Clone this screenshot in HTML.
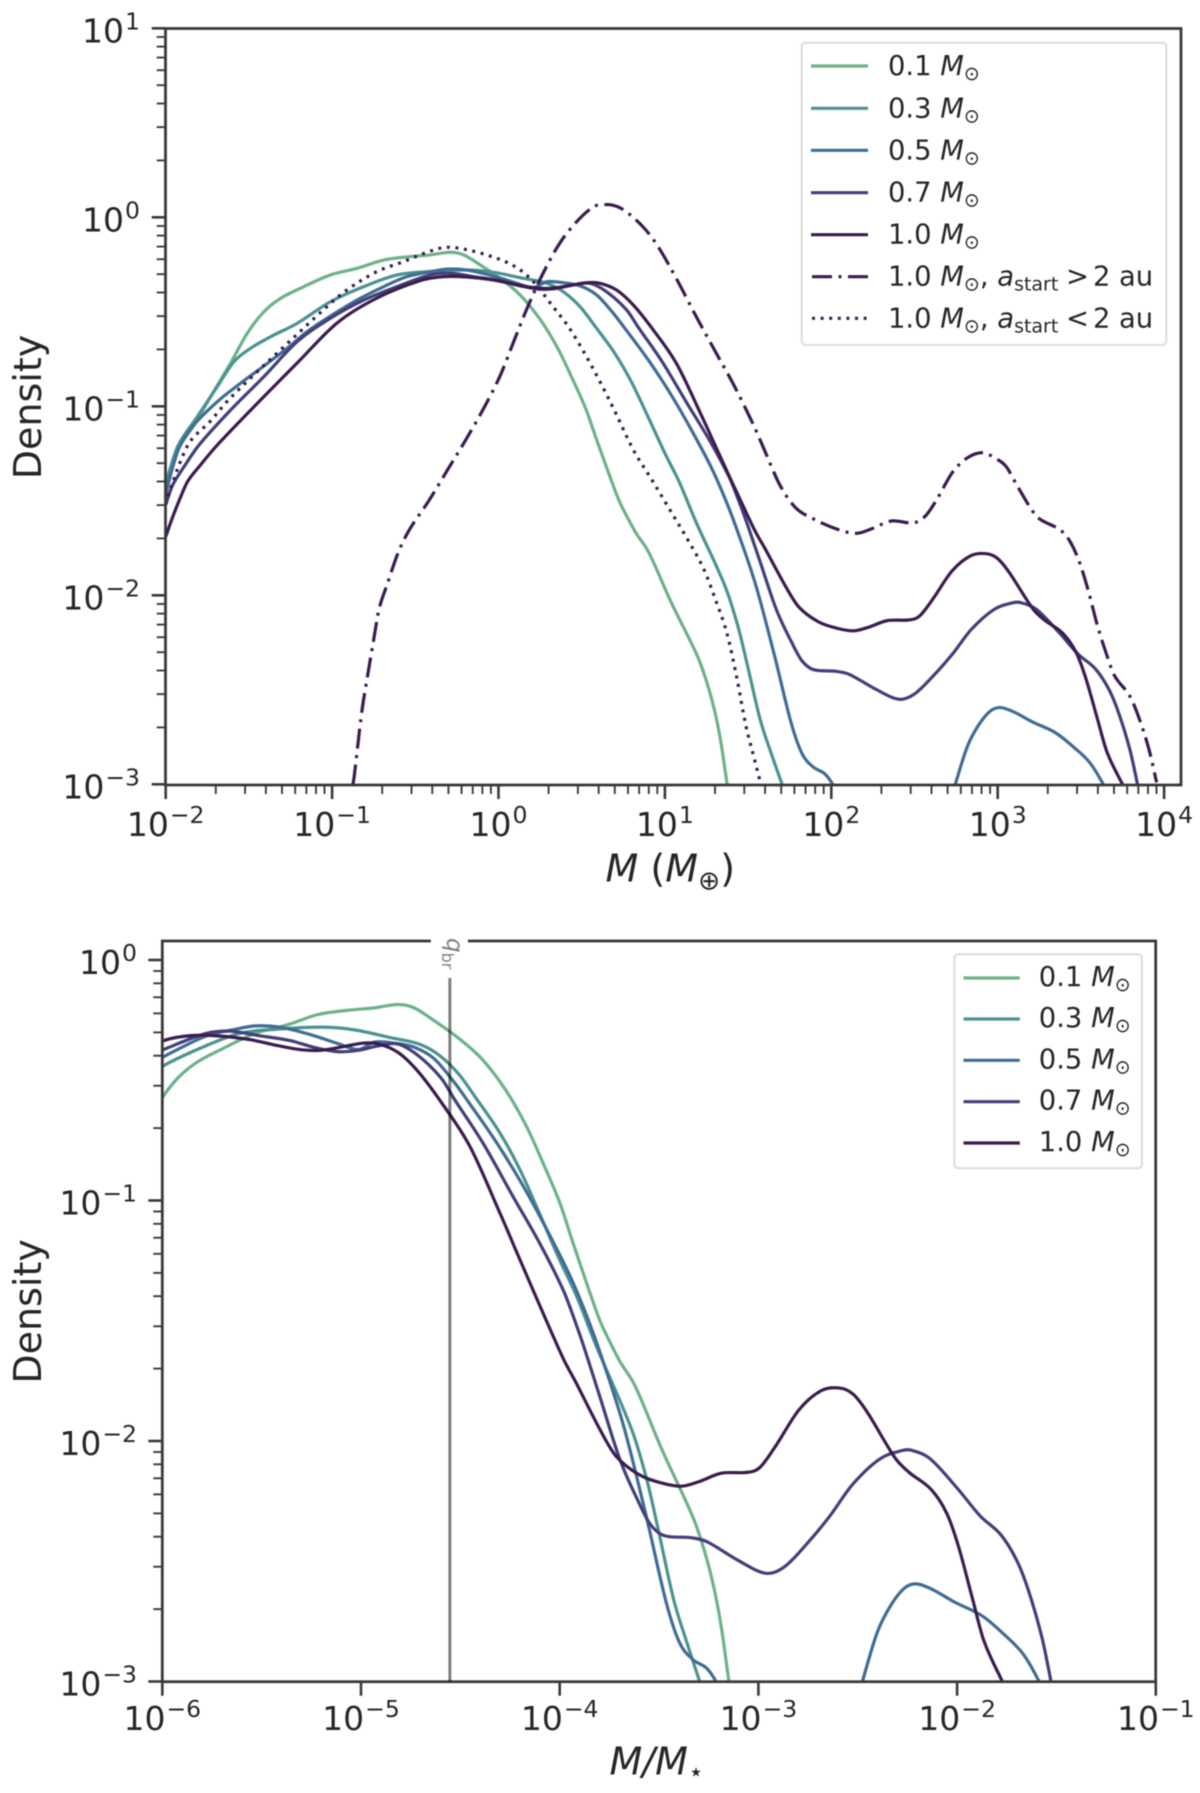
<!DOCTYPE html>
<html lang="en">
<head>
<meta charset="utf-8">
<title>Planet mass density by stellar mass</title>
<style>
  html, body { margin: 0; padding: 0; background: #fff; }
  svg { display: block; font-family: "DejaVu Sans", "Liberation Sans", sans-serif; filter: blur(0.45px); }
  .ink { fill: #262626; }
  .lg { font-size: 27.4px; fill: #262626; }
  .ax { font-size: 38px; fill: #262626; }
</style>
</head>
<body>
<svg xmlns="http://www.w3.org/2000/svg" width="1200" height="1793" viewBox="0 0 1200 1793">
  <defs>
    <clipPath id="clip-top"><rect x="165.5" y="28.5" width="1015.5" height="756.5"/></clipPath>
    <clipPath id="clip-bottom"><rect x="162.3" y="941" width="993.4" height="740.7"/></clipPath>
  </defs>
  <rect x="0" y="0" width="1200" height="1793" fill="#ffffff"/>

  <g id="top-panel">
    <g id="top-curves" clip-path="url(#clip-top)"></g>
    <rect x="165.5" y="28.5" width="1015.5" height="756.5" fill="none" stroke="#3a3a3a" stroke-width="2.8"/>
    <g id="top-ticks"></g>
    <text class="ax" transform="translate(41 407) rotate(-90)" text-anchor="middle">Density</text>
    <text class="ax" x="605.5" y="881.7"><tspan font-style="italic">M</tspan> (<tspan font-style="italic">M</tspan><tspan font-size="26.5" dy="8">⊕</tspan><tspan dy="-8">)</tspan></text>

    <g>
      <rect x="801.7" y="42.7" width="364.6" height="302.3" rx="4" ry="4" fill="#ffffff" stroke="#dcdcdc" stroke-width="2"/>
      <g>
        <line x1="811" x2="868" y1="66" y2="66" stroke="#6db28a" stroke-width="3.2"/>
        <text class="lg" x="888" y="75">0.1 <tspan font-style="italic">M</tspan><tspan font-size="19" dy="5">⊙</tspan></text>
      </g>
      <g>
        <line x1="811" x2="868" y1="108.3" y2="108.3" stroke="#4b9391" stroke-width="3.2"/>
        <text class="lg" x="888" y="117.3">0.3 <tspan font-style="italic">M</tspan><tspan font-size="19" dy="5">⊙</tspan></text>
      </g>
      <g>
        <line x1="811" x2="868" y1="150.3" y2="150.3" stroke="#406d94" stroke-width="3.2"/>
        <text class="lg" x="888" y="159.3">0.5 <tspan font-style="italic">M</tspan><tspan font-size="19" dy="5">⊙</tspan></text>
      </g>
      <g>
        <line x1="811" x2="868" y1="192.7" y2="192.7" stroke="#433f7a" stroke-width="3.2"/>
        <text class="lg" x="888" y="201.7">0.7 <tspan font-style="italic">M</tspan><tspan font-size="19" dy="5">⊙</tspan></text>
      </g>
      <g>
        <line x1="811" x2="868" y1="234.7" y2="234.7" stroke="#3b1c4f" stroke-width="3.2"/>
        <text class="lg" x="888" y="243.7">1.0 <tspan font-style="italic">M</tspan><tspan font-size="19" dy="5">⊙</tspan></text>
      </g>
      <g>
        <line x1="812" x2="868" y1="276.7" y2="276.7" stroke="#3b1c4f" stroke-width="3.2" stroke-dasharray="20 6.5 3 6.5"/>
        <text class="lg" x="888" y="285.7">1.0 <tspan font-style="italic">M</tspan><tspan font-size="19" dy="5">⊙</tspan><tspan dy="-5">, </tspan><tspan font-style="italic">a</tspan><tspan font-size="19" dy="5">start</tspan><tspan x="1066" dy="-5">&gt;</tspan><tspan x="1093">2</tspan><tspan x="1119">au</tspan></text>
      </g>
      <g>
        <line x1="812" x2="868" y1="318.3" y2="318.3" stroke="#3b1c4f" stroke-width="3.2" stroke-dasharray="3 5.6"/>
        <text class="lg" x="888" y="327.3">1.0 <tspan font-style="italic">M</tspan><tspan font-size="19" dy="5">⊙</tspan><tspan dy="-5">, </tspan><tspan font-style="italic">a</tspan><tspan font-size="19" dy="5">start</tspan><tspan x="1066" dy="-5">&lt;</tspan><tspan x="1093">2</tspan><tspan x="1119">au</tspan></text>
      </g>
    </g>
  </g>

  <g id="bottom-panel">
    <g id="bottom-curves" clip-path="url(#clip-bottom)"></g>
    <rect x="162.3" y="941" width="993.4" height="740.7" fill="none" stroke="#3a3a3a" stroke-width="2.8"/>
    <g id="bottom-ticks"></g>
    <g id="break-marker"></g>
    <text class="ax" transform="translate(41 1311.4) rotate(-90)" text-anchor="middle">Density</text>
    <text class="ax" x="609.5" y="1774.7"><tspan font-style="italic">M</tspan><tspan font-style="italic">/</tspan><tspan font-style="italic">M</tspan><tspan font-size="26" dy="6">⋆</tspan></text>

    <g>
      <rect x="954.3" y="954.3" width="187.6" height="214" rx="4" ry="4" fill="#ffffff" stroke="#dcdcdc" stroke-width="2"/>
      <g>
        <line x1="963.5" x2="1019.8" y1="978" y2="978" stroke="#6db28a" stroke-width="3.2"/>
        <text class="lg" x="1038.8" y="986">0.1 <tspan font-style="italic">M</tspan><tspan font-size="19" dy="5">⊙</tspan></text>
      </g>
      <g>
        <line x1="963.5" x2="1019.8" y1="1019" y2="1019" stroke="#4b9391" stroke-width="3.2"/>
        <text class="lg" x="1038.8" y="1027">0.3 <tspan font-style="italic">M</tspan><tspan font-size="19" dy="5">⊙</tspan></text>
      </g>
      <g>
        <line x1="963.5" x2="1019.8" y1="1060.3" y2="1060.3" stroke="#406d94" stroke-width="3.2"/>
        <text class="lg" x="1038.8" y="1068.3">0.5 <tspan font-style="italic">M</tspan><tspan font-size="19" dy="5">⊙</tspan></text>
      </g>
      <g>
        <line x1="963.5" x2="1019.8" y1="1101.7" y2="1101.7" stroke="#433f7a" stroke-width="3.2"/>
        <text class="lg" x="1038.8" y="1109.7">0.7 <tspan font-style="italic">M</tspan><tspan font-size="19" dy="5">⊙</tspan></text>
      </g>
      <g>
        <line x1="963.5" x2="1019.8" y1="1143" y2="1143" stroke="#3b1c4f" stroke-width="3.2"/>
        <text class="lg" x="1038.8" y="1151">1.0 <tspan font-style="italic">M</tspan><tspan font-size="19" dy="5">⊙</tspan></text>
      </g>
    </g>
  </g>

<script>
// Values: log10(planet mass / Earth mass) and log10(density).
const logMass01 = [-2,-1.97,-1.92,-1.83,-1.73,-1.61,-1.51,-1.41,-1.31,-1.17,-1.01,-0.85,-0.69,-0.53,-0.41,-0.29,-0.21,-0.11,0.01,0.13,0.25,0.356,0.439,0.524,0.59,0.658,0.725,0.778,0.826,0.903,1.037,1.191,1.249,1.297,1.335,1.374,1.39];
const logDensity01 = [-1.45,-1.34,-1.22,-1.10,-0.949,-0.772,-0.614,-0.50,-0.429,-0.367,-0.305,-0.27,-0.226,-0.208,-0.199,-0.185,-0.199,-0.252,-0.323,-0.411,-0.54,-0.693,-0.845,-1.012,-1.178,-1.344,-1.50,-1.593,-1.67,-1.773,-2.036,-2.313,-2.452,-2.604,-2.77,-3.0,-3.1];

const logMass03 = [-2,-1.97,-1.924,-1.81,-1.69,-1.59,-1.49,-1.37,-1.21,-1.01,-0.81,-0.61,-0.43,-0.19,-0.03,0.15,0.29,0.39,0.49,0.579,0.70,0.80,0.901,1.001,1.086,1.186,1.362,1.438,1.496,1.573,1.64,1.704,1.73];
const logDensity03 = [-1.42,-1.32,-1.205,-1.055,-0.896,-0.764,-0.693,-0.632,-0.561,-0.447,-0.367,-0.305,-0.288,-0.279,-0.291,-0.323,-0.349,-0.394,-0.473,-0.575,-0.721,-0.873,-1.06,-1.25,-1.40,-1.61,-1.953,-2.161,-2.37,-2.659,-2.839,-3.0,-3.07];

const logMass05 = [-2,-1.97,-1.92,-1.84,-1.69,-1.55,-1.415,-1.27,-1.15,-1.03,-0.85,-0.69,-0.55,-0.41,-0.31,-0.19,-0.03,0.11,0.21,0.29,0.39,0.49,0.59,0.69,0.755,0.906,1.04,1.158,1.275,1.359,1.434,1.546,1.661,1.758,1.825,1.892,1.96,2.008,2.03,null,2.72,2.745,2.819,2.888,2.956,3.014,3.094,3.209,3.347,3.46,3.553,3.634,3.66];
const logDensity05 = [-1.47,-1.36,-1.22,-1.108,-0.976,-0.878,-0.79,-0.693,-0.605,-0.534,-0.438,-0.367,-0.314,-0.288,-0.274,-0.279,-0.311,-0.349,-0.372,-0.341,-0.346,-0.363,-0.411,-0.508,-0.582,-0.762,-0.943,-1.123,-1.317,-1.483,-1.655,-1.946,-2.327,-2.673,-2.839,-2.909,-2.944,-3.0,-3.05,null,-3.08,-3.0,-2.797,-2.683,-2.612,-2.594,-2.616,-2.67,-2.727,-2.806,-2.885,-3.0,-3.06];

const logMass07 = [-2,-1.96,-1.89,-1.80,-1.61,-1.41,-1.21,-1.01,-0.81,-0.61,-0.41,-0.29,-0.15,0.01,0.13,0.25,0.35,0.45,0.55,0.65,0.77,0.84,0.982,1.133,1.267,1.385,1.444,1.494,1.575,1.671,1.767,1.825,1.892,2.027,2.107,2.267,2.405,2.497,2.612,2.727,2.842,2.98,3.094,3.14,3.232,3.37,3.484,3.588,3.668,3.726,3.794,3.84,3.86];
const logDensity07 = [-1.52,-1.42,-1.32,-1.205,-1.02,-0.843,-0.658,-0.534,-0.438,-0.367,-0.305,-0.296,-0.314,-0.335,-0.363,-0.381,-0.376,-0.358,-0.349,-0.394,-0.49,-0.582,-0.762,-0.984,-1.178,-1.372,-1.50,-1.62,-1.83,-2.078,-2.258,-2.348,-2.393,-2.402,-2.418,-2.497,-2.55,-2.524,-2.427,-2.312,-2.18,-2.074,-2.039,-2.039,-2.074,-2.198,-2.312,-2.39,-2.497,-2.62,-2.815,-3.0,-3.1];

const logMass10 = [-2,-1.96,-1.915,-1.87,-1.80,-1.69,-1.41,-1.21,-0.97,-0.73,-0.47,-0.33,-0.19,-0.03,0.087,0.21,0.31,0.41,0.53,0.61,0.71,0.81,0.93,1.071,1.222,1.315,1.388,1.539,1.60,1.73,1.807,1.922,2.037,2.134,2.22,2.336,2.47,2.53,2.61,2.727,2.84,2.933,3.0,3.07,3.21,3.28,3.39,3.47,3.53,3.60,3.657,3.75,3.78];
const logDensity10 = [-1.69,-1.59,-1.49,-1.40,-1.32,-1.205,-0.949,-0.771,-0.559,-0.427,-0.335,-0.314,-0.316,-0.332,-0.353,-0.372,-0.376,-0.364,-0.346,-0.349,-0.385,-0.464,-0.596,-0.776,-1.053,-1.232,-1.372,-1.655,-1.75,-1.96,-2.064,-2.14,-2.175,-2.188,-2.17,-2.134,-2.13,-2.11,-2.02,-1.87,-1.79,-1.78,-1.806,-1.88,-2.07,-2.13,-2.20,-2.30,-2.44,-2.656,-2.83,-3.0,-3.05];

const logMassOuter = [-0.875,-0.868,-0.822,-0.787,-0.753,-0.718,-0.672,-0.603,-0.534,-0.419,-0.304,-0.197,-0.091,0.009,0.089,0.169,0.26,0.365,0.47,0.57,0.614,0.683,0.752,0.867,0.959,1.073,1.188,1.303,1.418,1.533,1.59,1.693,1.785,1.877,2.038,2.153,2.245,2.36,2.497,2.566,2.635,2.727,2.819,2.91,2.979,3.048,3.117,3.209,3.255,3.37,3.427,3.485,3.542,3.6,3.657,3.703,3.794,3.852,3.909,3.955];
const logDensityOuter = [-3.0,-2.965,-2.62,-2.427,-2.25,-2.074,-1.95,-1.774,-1.651,-1.50,-1.333,-1.178,-1.014,-0.84,-0.663,-0.487,-0.31,-0.141,-0.023,0.056,0.065,0.065,0.039,-0.049,-0.155,-0.331,-0.525,-0.71,-0.894,-1.10,-1.215,-1.42,-1.536,-1.589,-1.651,-1.672,-1.647,-1.607,-1.616,-1.58,-1.492,-1.351,-1.272,-1.245,-1.272,-1.316,-1.42,-1.554,-1.598,-1.651,-1.704,-1.81,-1.968,-2.162,-2.32,-2.427,-2.533,-2.656,-2.815,-2.99];

const logMassInner = [-2,-1.98,-1.915,-1.854,-1.734,-1.633,-1.513,-1.353,-1.193,-1.043,-0.912,-0.732,-0.572,-0.42,-0.32,-0.21,-0.05,0.10,0.21,0.32,0.42,0.506,0.61,0.71,0.78,0.825,0.913,1.028,1.142,1.234,1.303,1.372,1.43,1.487,1.533,1.574,1.60];
const logDensityInner = [-1.52,-1.46,-1.30,-1.187,-1.081,-0.976,-0.87,-0.737,-0.605,-0.482,-0.385,-0.288,-0.235,-0.182,-0.159,-0.168,-0.205,-0.261,-0.341,-0.464,-0.579,-0.702,-0.87,-1.046,-1.178,-1.254,-1.377,-1.545,-1.713,-1.862,-2.021,-2.198,-2.427,-2.691,-2.85,-2.99,-3.08];

// Stellar masses (solar masses) for each series; the lower panel divides planet mass by these.
const starMass01 = 0.1;
const starMass03 = 0.3;
const starMass05 = 0.5;
const starMass07 = 0.7;
const starMass10 = 1.0;
const earthInSolarMasses = 3.003e-6;
const breakRatio = 2.8e-5;

// Tick labels.
const topXExponents = [-2, -1, 0, 1, 2, 3, 4];
const topYExponents = [-3, -2, -1, 0, 1];
const bottomXExponents = [-6, -5, -4, -3, -2, -1];
const bottomYExponents = [-3, -2, -1, 0];
const minorMultiples = [2, 3, 4, 5, 6, 7, 8, 9];

// Axis functions: log10(value) to pixels.
const topX = function (v) { return 165.7 + (v + 2) * 166.4; };
const topY = function (v) { return 217.3 - v * 189; };
const bottomX = function (v) { return 162.3 + (v + 6) * 198.7; };
const bottomY = function (v) { return 960 - v * 240.5; };

const SVG_NS = 'http://www.w3.org/2000/svg';
function make(tag, attrs, parent) {
  const el = document.createElementNS(SVG_NS, tag);
  for (const key in attrs) { el.setAttribute(key, attrs[key]); }
  parent.appendChild(el);
  return el;
}

function smoothPath(xs, ys, fx, fy) {
  let d = '';
  let runX = [];
  let runY = [];
  function flush() {
    const n = runX.length;
    if (n < 2) { runX = []; runY = []; return; }
    const slope = [];
    for (let i = 0; i < n; i++) {
      const a = Math.max(0, i - 1);
      const b = Math.min(n - 1, i + 1);
      slope.push((runY[b] - runY[a]) / (runX[b] - runX[a]));
    }
    d += 'M' + runX[0].toFixed(2) + ' ' + runY[0].toFixed(2);
    for (let i = 0; i < n - 1; i++) {
      const h = (runX[i + 1] - runX[i]) / 3;
      d += 'C' + (runX[i] + h).toFixed(2) + ' ' + (runY[i] + slope[i] * h).toFixed(2) + ' ' +
           (runX[i + 1] - h).toFixed(2) + ' ' + (runY[i + 1] - slope[i + 1] * h).toFixed(2) + ' ' +
           runX[i + 1].toFixed(2) + ' ' + runY[i + 1].toFixed(2);
    }
    runX = [];
    runY = [];
  }
  for (let i = 0; i < xs.length; i++) {
    if (xs[i] === null || ys[i] === null) { flush(); continue; }
    runX.push(fx(xs[i]));
    runY.push(fy(ys[i]));
  }
  flush();
  return d;
}

function drawCurve(parent, xs, ys, fx, fy, color, dash, name) {
  const path = make('path', { d: smoothPath(xs, ys, fx, fy), fill: 'none', stroke: color, 'stroke-width': 3.2, 'stroke-linejoin': 'round' }, parent);
  if (dash) { path.setAttribute('stroke-dasharray', dash); }
  
  
}

function toRatio(xs, star) {
  const shift = Math.log10(earthInSolarMasses / star);
  return xs.map(function (v) { return v === null ? null : v + shift; });
}

const topCurves = document.getElementById('top-curves');
drawCurve(topCurves, logMass01, logDensity01, topX, topY, '#6db28a', null, 'curve-0-1-msun');
drawCurve(topCurves, logMass03, logDensity03, topX, topY, '#4b9391', null, 'curve-0-3-msun');
drawCurve(topCurves, logMass05, logDensity05, topX, topY, '#406d94', null, 'curve-0-5-msun');
drawCurve(topCurves, logMass07, logDensity07, topX, topY, '#433f7a', null, 'curve-0-7-msun');
drawCurve(topCurves, logMass10, logDensity10, topX, topY, '#3b1c4f', null, 'curve-1-0-msun');
drawCurve(topCurves, logMassOuter, logDensityOuter, topX, topY, '#3b1c4f', '20 6.5 3 6.5', 'curve-1-0-msun-outer-start');
drawCurve(topCurves, logMassInner, logDensityInner, topX, topY, '#3b1c4f', '3 5.6', 'curve-1-0-msun-inner-start');

const bottomCurves = document.getElementById('bottom-curves');
drawCurve(bottomCurves, toRatio(logMass01, starMass01), logDensity01, bottomX, bottomY, '#6db28a', null, 'ratio-curve-0-1-msun');
drawCurve(bottomCurves, toRatio(logMass03, starMass03), logDensity03, bottomX, bottomY, '#4b9391', null, 'ratio-curve-0-3-msun');
drawCurve(bottomCurves, toRatio(logMass05, starMass05), logDensity05, bottomX, bottomY, '#406d94', null, 'ratio-curve-0-5-msun');
drawCurve(bottomCurves, toRatio(logMass07, starMass07), logDensity07, bottomX, bottomY, '#433f7a', null, 'ratio-curve-0-7-msun');
drawCurve(bottomCurves, toRatio(logMass10, starMass10), logDensity10, bottomX, bottomY, '#3b1c4f', null, 'ratio-curve-1-0-msun');

function expLabel(parent, exp, x, y, anchor, name) {
  const t = make('text', { x: x, y: y, 'text-anchor': anchor, 'font-size': 33, class: 'ink' }, parent);
  t.appendChild(document.createTextNode('10'));
  const s = make('tspan', { dy: -13, dx: 1, 'font-size': 23.5 }, t);
  s.textContent = String(exp).replace('-', '\u2212');
  
  
}

function drawXTicks(parent, exps, fx, axisY, withMinor, labelBaseline, lastMinorPx) {
  exps.forEach(function (e) {
    const px = fx(e);
    const tick = make('line', { x1: px, x2: px, y1: axisY, y2: axisY + 14, stroke: '#3a3a3a', 'stroke-width': 2.6 }, parent);
    
    
    expLabel(parent, e, px, labelBaseline, 'middle', 'x-tick-label');
    if (withMinor) {
      minorMultiples.forEach(function (m) {
        const mx = fx(e + Math.log10(m));
        if (mx > lastMinorPx) { return; }
        const minor = make('line', { x1: mx, x2: mx, y1: axisY, y2: axisY + 9, stroke: '#3a3a3a', 'stroke-width': 1.9 }, parent);
        
        
      });
    }
  });
}

function drawYTicks(parent, exps, fy, axisX, labelRight) {
  exps.forEach(function (e, i) {
    const py = fy(e);
    const tick = make('line', { x1: axisX - 14, x2: axisX, y1: py, y2: py, stroke: '#3a3a3a', 'stroke-width': 2.6 }, parent);
    
    
    expLabel(parent, e, labelRight, py + 14, 'end', 'y-tick-label');
    if (i < exps.length - 1) {
      minorMultiples.forEach(function (m) {
        const my = fy(e + Math.log10(m));
        const minor = make('line', { x1: axisX - 9, x2: axisX, y1: my, y2: my, stroke: '#3a3a3a', 'stroke-width': 1.9 }, parent);
        
        
      });
    }
  });
}

const topTicks = document.getElementById('top-ticks');
drawXTicks(topTicks, topXExponents, topX, 785, true, 836, 1181);
drawYTicks(topTicks, topYExponents, topY, 165.7, 140);

const bottomTicks = document.getElementById('bottom-ticks');
drawXTicks(bottomTicks, bottomXExponents, bottomX, 1681.7, false, 1730, 1156);
drawYTicks(bottomTicks, bottomYExponents, bottomY, 162.3, 137);

// Break-ratio marker: vertical line with a rotated label that interrupts the top spine.
const marker = document.getElementById('break-marker');
const breakPx = bottomX(Math.log10(breakRatio));
const gap = make('rect', { x: breakPx - 19, y: 936, width: 37, height: 36, fill: '#ffffff' }, marker);


const breakLine = make('line', { x1: breakPx, x2: breakPx, y1: 978, y2: 1681.7, stroke: '#000000', 'stroke-opacity': 0.5, 'stroke-width': 3 }, marker);


const breakLabel = make('text', { transform: 'translate(' + (breakPx - 3) + ' 938) rotate(90)', 'font-size': 23, fill: '#808080' }, marker);
const breakQ = make('tspan', { 'font-style': 'italic' }, breakLabel);
breakQ.textContent = 'q';
const breakSub = make('tspan', { 'font-size': 16, dy: 5 }, breakLabel);
breakSub.textContent = 'br';


</script>
</svg>
</body>
</html>
